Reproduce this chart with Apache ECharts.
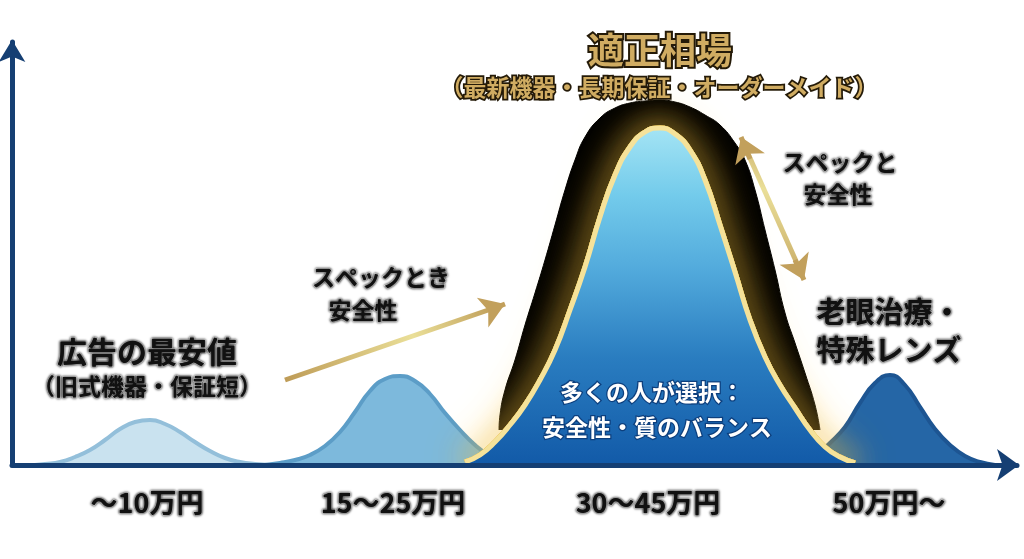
<!DOCTYPE html>
<html>
<head>
<meta charset="utf-8">
<title>適正相場</title>
<style>
* { margin: 0; padding: 0; }
html, body { width: 100%; height: 100%; background: #fff; }
#chart { width: 1024px; height: 559px; }
</style>
</head>
<body>
<div id="chart"></div>
<script src="https://cdn.jsdelivr.net/npm/echarts@6/dist/echarts.min.js"></script>
<script>
// tick labels
var priceLabels = ['〜10万円', '15〜25万円', '30〜45万円', '50万円〜'];
var priceTicks = [135, 381, 636, 877];

// curves (x along the axis, y above the axis)
var lowX = [23, 33, 48, 63, 78, 93, 108, 123, 138, 153, 168, 183, 198, 213, 228, 243, 258];
var lowY = [0, 1, 3, 8, 15, 25, 36, 43, 45, 41, 33, 23, 14, 7, 3, 1, 0];

var midX = [253, 268, 283, 298, 313, 328, 343, 358, 373, 388, 403, 418, 433, 448, 463, 478, 493];
var midY = [0, 2, 5, 10, 19, 33, 53, 74, 86, 89, 84, 71, 52, 35, 20, 9, 2];

var highX = [803, 818, 833, 848, 863, 878, 893, 908, 923, 938, 953, 968, 983];
var highY = [8, 22, 38, 62, 82, 90, 80, 58, 36, 20, 9, 3, 0];

var glowX = [487, 488, 493, 503, 513, 523, 533, 543, 553, 563, 573, 588, 603, 618, 633, 648, 663, 678, 693, 708, 723, 733, 743, 753, 763, 773, 783, 793, 803, 808];
var glowY = [35, 50, 75, 105, 140, 172, 205, 240, 275, 305, 328, 347, 357, 362, 364, 365, 363, 358, 350, 340, 322, 305, 275, 235, 195, 152, 122, 92, 60, 35];

var bellX = [453, 468, 483, 498, 513, 528, 543, 558, 573, 588, 603, 618, 633, 648, 663, 678, 693, 708, 723, 738, 753, 768, 783, 798, 813, 828, 843];
var bellY = [3, 10, 23, 40, 60, 85, 115, 155, 198, 248, 290, 318, 333, 337, 331, 315, 285, 240, 193, 145, 108, 80, 57, 35, 18, 8, 2];

function zip(xs, ys) {
	return xs.map(function(x, i) { return [x, ys[i]] });
}

var font = '"Noto Sans CJK JP", "Noto Sans", sans-serif';
var navy = '#153f73';
var tan = '#c2a05c';

function hump(name, xs, ys, fill, stroke) {
	return {
		name: name,
		type: 'line',
		z: 1,
		data: zip(xs, ys),
		smooth: true,
		showSymbol: false,
		lineStyle: { color: stroke, width: 4 },
		areaStyle: { color: fill, opacity: 1 }
	};
}

// the line z2 sits above any area of the same z, so layers need their own z
function halo(width, blur) {
	return {
		type: 'line',
		z: 3,
		data: zip(bellX, bellY),
		smooth: true,
		showSymbol: false,
		lineStyle: { color: '#e8bf4e', width: width, shadowColor: '#f0bd3a', shadowBlur: blur }
	};
}

function label(str, x, y, size) {
	return {
		type: 'text', z: 50,
		style: {
			text: str, x: x, y: y, align: 'center', verticalAlign: 'middle',
			font: '700 ' + size + 'px ' + font,
			fill: '#111', stroke: '#fff', lineWidth: 1.2,
			textShadowColor: '#000', textShadowBlur: 2.5
		}
	};
}

function plain(str, x, y, size, fill, stroke, border) {
	return {
		type: 'text', z: 50,
		style: {
			text: str, x: x, y: y, align: 'center', verticalAlign: 'middle',
			font: '700 ' + size + 'px ' + font,
			fill: fill, stroke: stroke, lineWidth: border
		}
	};
}

function goldLabel(str, x, y, size, border) {
	return plain(str, x, y, size, '#d0ac62', '#241a08', border);
}

function whiteLabel(str, x, y, size) {
	return plain(str, x, y, size, '#fff', '#0d3f7d', 2.5);
}

var shaftGold = new echarts.graphic.LinearGradient(0, 1, 1, 0, [
	{ offset: 0, color: '#bd9a55' },
	{ offset: 0.6, color: '#eadf98' },
	{ offset: 1, color: '#bd9a55' }
]);

// shaft without heads, then a short plain piece that carries the head
function shaft(a, b) {
	return [{ coord: a, symbol: 'none' }, { coord: b, symbol: 'none' }];
}
function head(a, b) {
	return [{ coord: a, symbol: 'none', lineStyle: { color: tan } }, { coord: b, symbol: 'arrow' }];
}

var chart = echarts.init(document.getElementById('chart'));
chart.setOption({
	animation: false,
	backgroundColor: '#fff',
	grid: { left: 12, top: 42, width: 1005, height: 423 },
	xAxis: {
		type: 'value', min: 0, max: 1005, z: 10,
		splitLine: { show: false },
		axisTick: { show: false },
		axisLine: {
			lineStyle: { color: navy, width: 5 },
			symbol: ['none', 'arrow'], symbolSize: [24, 22], symbolOffset: [0, 2]
		},
		axisLabel: {
			customValues: priceTicks,
			margin: 24,
			fontFamily: font, fontSize: 27, fontWeight: 700,
			color: '#111', textBorderColor: '#fff', textBorderWidth: 1.2,
			textShadowColor: '#000', textShadowBlur: 2.5,
			formatter: function(v) { return priceLabels[priceTicks.indexOf(v)] }
		}
	},
	yAxis: {
		type: 'value', min: 0, max: 423, z: 10,
		splitLine: { show: false },
		axisTick: { show: false },
		axisLabel: { show: false },
		axisLine: {
			show: true,
			lineStyle: { color: navy, width: 5 },
			symbol: ['none', 'arrow'], symbolSize: [20, 22], symbolOffset: [0, 2]
		}
	},
	series: [
		hump('low', lowX, lowY, '#c9e2ef', '#93bfda'),
		hump('mid', midX, midY, '#7db9dc', '#5c9dc7'),
		hump('high', highX, highY, '#2566a6', '#1d5592'),
		{
			name: 'shadow',
			type: 'line',
			z: 2,
			data: zip(glowX, glowY),
			smooth: true,
			showSymbol: false,
			lineStyle: { color: '#000', width: 1 },
			areaStyle: { color: '#000', opacity: 1, origin: 35 }
		},
		halo(5, 44),
		halo(5, 34),
		halo(5, 24),
		{
			name: 'bell',
			type: 'line',
			z: 4,
			data: zip(bellX, bellY),
			smooth: true,
			showSymbol: false,
			lineStyle: { color: '#f5e29a', width: 5 },
			areaStyle: {
				opacity: 1,
				color: new echarts.graphic.LinearGradient(0, 0, 0, 1, [
					{ offset: 0, color: '#a4e4f4' },
					{ offset: 0.2, color: '#73cbeb' },
					{ offset: 0.42, color: '#52aadc' },
					{ offset: 0.68, color: '#2a7dc0' },
					{ offset: 1, color: '#125aa8' }
				])
			}
		},
		{
			name: 'arrows',
			type: 'line',
			z: 5,
			data: [],
			markLine: {
				silent: true,
				symbol: 'none',
				symbolSize: 24,
				label: { show: false },
				lineStyle: { type: 'solid', width: 5, color: shaftGold },
				data: [
					shaft([273, 85], [485, 158]),
					head([480, 156], [493, 161]),
					shaft([733, 318], [788, 195]),
					head([738, 306], [729, 328]),
					head([783, 205], [792, 185])
				]
			}
		}
	],
	graphic: [
		goldLabel('適正相場', 660, 50, 36, 4),
		goldLabel('（最新機器・長期保証・オーダーメイド）', 659, 87, 23, 3.5),
		label('スペックと', 840, 162, 23),
		label('安全性', 838, 194, 23),
		label('スペックとき', 381, 277, 23),
		label('安全性', 363, 310, 23),
		label('広告の最安値', 147, 352, 30),
		label('（旧式機器・保証短）', 147, 386, 23),
		label('老眼治療・', 889, 312, 29),
		label('特殊レンズ', 889, 350, 29),
		whiteLabel('多くの人が選択：', 652, 392, 23),
		whiteLabel('安全性・質のバランス', 657, 427, 23)
	]
});
</script>
</body>
</html>
